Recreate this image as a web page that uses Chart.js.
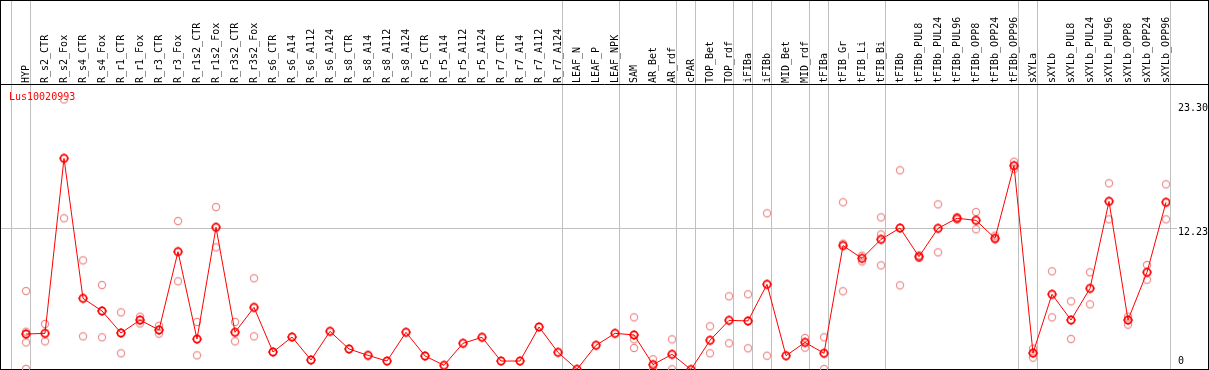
<!DOCTYPE html>
<html>
<head>
<meta charset="utf-8">
<script src="https://cdn.jsdelivr.net/npm/chart.js@4"></script>
<style>
html, body { margin: 0; padding: 0; background: #fff; }
canvas { display: block; }
</style>
</head>
<body>
<canvas id="grafico" width="1209" height="370"></canvas>
<script>
var titulo = "Lus10020993";

var muestras = ["HYP", "R_s2_CTR", "R_s2_Fox", "R_s4_CTR", "R_s4_Fox", "R_r1_CTR", "R_r1_Fox", "R_r3_CTR", "R_r3_Fox",
	"R_r1s2_CTR", "R_r1s2_Fox", "R_r3s2_CTR", "R_r3s2_Fox", "R_s6_CTR", "R_s6_A14", "R_s6_A112", "R_s6_A124",
	"R_s8_CTR", "R_s8_A14", "R_s8_A112", "R_s8_A124", "R_r5_CTR", "R_r5_A14", "R_r5_A112", "R_r5_A124",
	"R_r7_CTR", "R_r7_A14", "R_r7_A112", "R_r7_A124", "LEAF_N", "LEAF_P", "LEAF_NPK", "SAM", "AR_Bet", "AR_rdf",
	"cPAR", "TOP_Bet", "TOP_rdf", "iFIBa", "iFIBb", "MID_Bet", "MID_rdf", "tFIBa", "tFIB_Gr", "tFIB_Li", "tFIB_Bi",
	"tFIBb", "tFIBb_PUL8", "tFIBb_PUL24", "tFIBb_PUL96", "tFIBb_OPP8", "tFIBb_OPP24", "tFIBb_OPP96",
	"sXYLa", "sXYLb", "sXYLb_PUL8", "sXYLb_PUL24", "sXYLb_PUL96", "sXYLb_OPP8", "sXYLb_OPP24", "sXYLb_OPP96"];

// media de las replicas
var medias = [3.06, 3.12, 18.22, 6.14, 5.05, 3.15, 4.27, 3.41, 10.17, 2.63, 12.27, 3.21, 5.36, 1.51, 2.80, 0.82, 3.29,
	1.77, 1.22, 0.73, 3.21, 1.17, 0.36, 2.26, 2.78, 0.73, 0.73, 3.67, 1.48, 0.02, 2.09, 3.12, 2.98, 0.42, 1.31,
	0.0, 2.52, 4.24, 4.19, 7.35, 1.19, 2.34, 1.40, 10.69, 9.59, 11.23, 12.21, 9.74, 12.18, 13.05, 12.87, 11.32, 17.59,
	1.42, 6.49, 4.27, 7.00, 14.51, 4.27, 8.39, 14.43];

var replica1 = [6.77, 3.93, 23.30, 9.42, 7.29, 4.93, 4.56, 3.78, 12.81, 4.10, 14.02, 4.10, 7.87, null, null, null, null,
	null, null, null, null, null, null, null, null, null, null, null, null, null, null, null, 4.50, 0.88, 2.60,
	null, 3.73, 6.32, 6.49, 13.48, null, 2.72, 2.78, 14.43, 9.82, 13.13, 17.19, 9.85, 14.25, 13.15, 13.59, 11.55, 17.93,
	1.80, 8.47, 5.88, 8.39, 16.07, 4.56, 9.02, 15.98];

var replica2 = [3.26, 2.43, 13.05, 2.86, 2.78, 1.40, 3.98, 3.09, 7.61, 1.22, 10.54, 2.43, 2.86, null, null, null, null,
	null, null, null, null, null, null, null, null, null, null, null, null, null, null, null, 2.60, 0.0, 0.02,
	null, 1.40, 2.26, 1.83, 1.19, null, 1.89, 0.04, 10.86, 9.33, 11.66, 7.26, 9.62, 10.11, 12.95, 12.10, 11.23, 17.30,
	1.02, 4.50, 2.63, 5.62, 12.96, 3.87, 7.75, 12.96];

var replica3 = [2.34, null, null, null, null, null, null, null, null, null, null, null, null, null, null, null, null,
	null, null, null, null, null, null, null, null, null, null, null, null, null, null, null, 1.86, null, null,
	null, null, null, null, null, null, null, null, 6.75, null, 8.99, null, null, null, null, null, null, null,
	null, null, null, null, null, null, null, null];

var replica4 = [0.05];

var marcasY = [0, 12.23, 23.30];

// ultima muestra de cada grupo (la linea gris va justo despues)
var finGrupos = [-1, 0, 28, 31, 34, 35, 37, 38, 39, 41, 42, 45, 52, 53, 60];

var fuente = "'DejaVu Sans Mono', 'Liberation Mono', monospace";

function puntos(valores)
{
	var salida = [];
	for(var i=0; i<valores.length; i++)
	{
		if(valores[i] !== null && valores[i] !== undefined)
			salida.push({x: i, y: valores[i]});
	}
	return salida;
}

function creaMarcador(color, grosor, conMarcas)
{
	var c = document.createElement("canvas");
	c.width = 12;
	c.height = 12;
	var ctx = c.getContext("2d");
	ctx.strokeStyle = color;
	ctx.lineWidth = grosor;
	ctx.beginPath();
	ctx.arc(6, 6, 3.6, 0, Math.PI * 2);
	ctx.stroke();
	if(conMarcas)
	{
		ctx.fillStyle = color;
		ctx.fillRect(5.5, 1, 1, 1);
		ctx.fillRect(5.5, 10, 1, 1);
		ctx.fillRect(1, 5.5, 1, 1);
		ctx.fillRect(10, 5.5, 1, 1);
	}
	return c;
}

var marcaMedia = creaMarcador("#ff0000", 1.7, true);
var marcaReplica = creaMarcador("#ec8c8c", 1.2, false);

// desplazamiento vertical de cada etiqueta del eje derecho
var ajusteEtiquetaY = [-8, 4.7, 8.5];

var decorado = {
	id: "decorado",
	beforeDraw: function(chart)
	{
		var ctx = chart.ctx;
		var ejeX = chart.scales.x;
		var ejeY = chart.scales.y;
		ctx.save();
		ctx.fillStyle = "#fff";
		ctx.fillRect(0, 0, chart.width, chart.height);

		ctx.strokeStyle = "#c0c0c0";
		ctx.lineWidth = 1;
		ctx.beginPath();
		for(var i=0; i<finGrupos.length; i++)
		{
			var px = Math.floor(ejeX.getPixelForValue(finGrupos[i] + 0.23)) + 0.5;
			ctx.moveTo(px, 0);
			ctx.lineTo(px, 369);
		}
		var py = Math.round(ejeY.getPixelForValue(marcasY[1])) + 0.5;
		ctx.moveTo(1, py);
		ctx.lineTo(1177, py);
		ctx.stroke();
		ctx.restore();
	},
	beforeDatasetsDraw: function(chart)
	{
		var ctx = chart.ctx;
		var ejeY = chart.scales.y;
		ctx.save();
		ctx.strokeStyle = "#000";
		ctx.lineWidth = 1;
		ctx.strokeRect(0.5, 0.5, 1208, 369);
		ctx.beginPath();
		ctx.moveTo(0, 84.5);
		ctx.lineTo(1209, 84.5);
		ctx.stroke();

		ctx.font = "10px " + fuente;
		ctx.textBaseline = "middle";
		ctx.textAlign = "left";
		ctx.fillStyle = "#ff0000";
		ctx.fillText(titulo, 9, 97);

		ctx.fillStyle = "#000";
		for(var i=0; i<marcasY.length; i++)
		{
			var texto = marcasY[i] == 0 ? "0" : marcasY[i].toFixed(2);
			ctx.fillText(texto, 1178, ejeY.getPixelForValue(marcasY[i]) + ajusteEtiquetaY[i]);
		}
		ctx.restore();
	}
};

var ctx = document.getElementById("grafico");

var datosReplica = {
	showLine: false,
	pointStyle: marcaReplica,
	pointRadius: 4,
	borderColor: "#ec8c8c",
	backgroundColor: "rgba(0,0,0,0)"
};

var myChart = new Chart(ctx, {
	type: "scatter",
	data: {
		datasets: [
			{
				data: puntos(medias),
				showLine: true,
				borderColor: "#ff0000",
				borderWidth: 1,
				pointStyle: marcaMedia,
				pointRadius: 4,
				tension: 0
			},
			Object.assign({data: puntos(replica1)}, datosReplica),
			Object.assign({data: puntos(replica2)}, datosReplica),
			Object.assign({data: puntos(replica3)}, datosReplica),
			Object.assign({data: puntos(replica4)}, datosReplica)
		]
	},
	options: {
		responsive: false,
		animation: false,
		devicePixelRatio: 1,
		layout: {
			autoPadding: false,
			padding: {left: 1, right: 1, top: 0, bottom: 0}
		},
		plugins: {
			legend: {display: false},
			tooltip: {enabled: false}
		},
		scales: {
			x: {
				type: "linear",
				position: "top",
				min: -1.3158,
				max: 60.2105,
				grid: {display: false, drawTicks: false},
				border: {display: false},
				afterBuildTicks: function(eje) {
					eje.ticks = muestras.map(function(m, i) { return {value: i}; });
				},
				afterFit: function(eje) {
					eje.height = 85;
				},
				ticks: {
					autoSkip: false,
					minRotation: 90,
					maxRotation: 90,
					padding: 2,
					labelOffset: 12,
					color: "#000",
					font: {family: fuente, size: 10},
					callback: function(valor) {
						return muestras[valor] || "";
					}
				}
			},
			y: {
				type: "linear",
				position: "right",
				min: -0.043,
				max: 24.55,
				grid: {display: false, drawTicks: false},
				border: {display: false},
				ticks: {display: false},
				afterFit: function(eje) {
					eje.width = 38;
				}
			}
		}
	},
	plugins: [decorado]
});
</script>
</body>
</html>
